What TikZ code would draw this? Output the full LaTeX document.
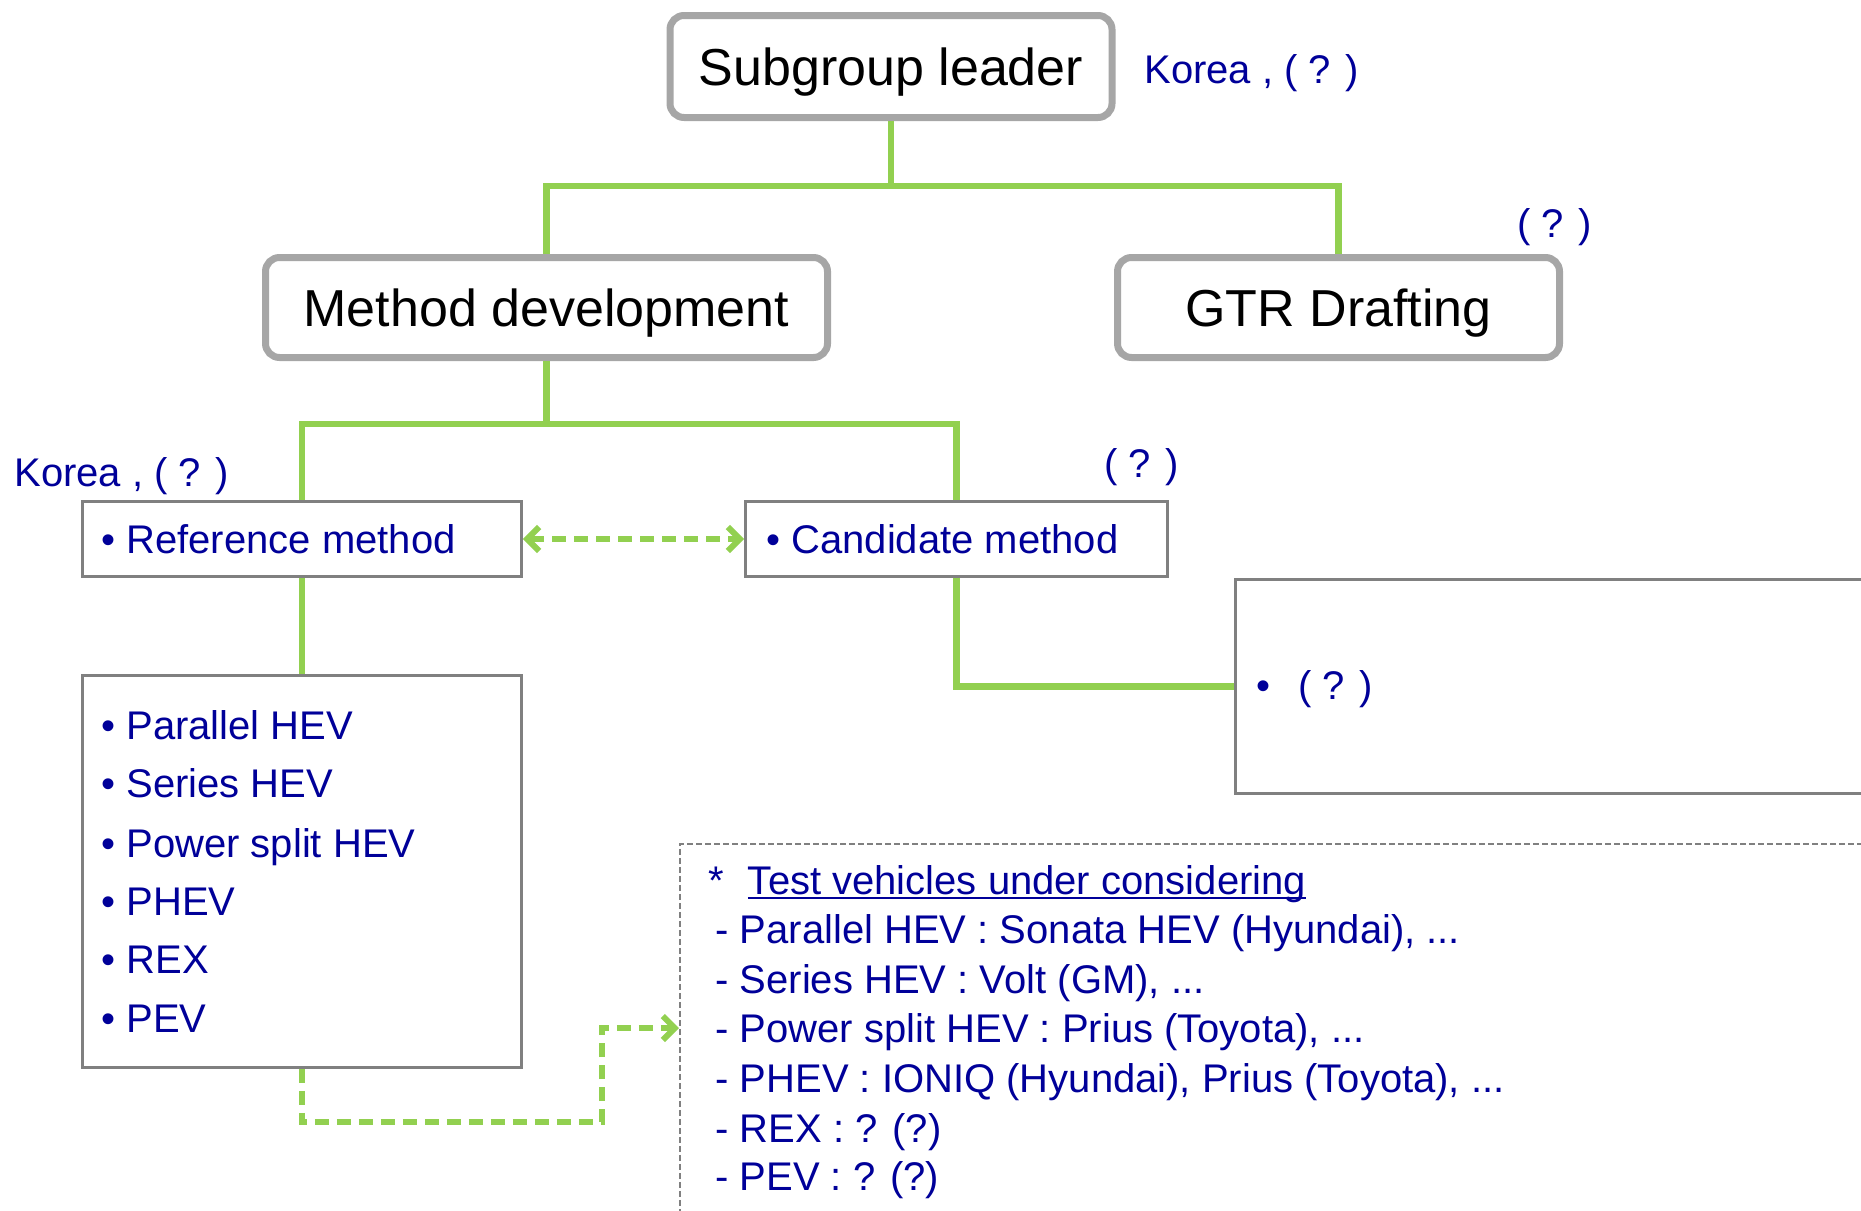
\documentclass[tikz,border=0pt]{standalone}
\usepackage{fontspec}
\setmainfont{Liberation Sans}
\usetikzlibrary{arrows.meta}
\definecolor{grn}{HTML}{92D050}
\definecolor{navy}{HTML}{000099}
\definecolor{rgray}{HTML}{A6A6A6}
\definecolor{bgray}{HTML}{808080}
\tikzset{gtip/.tip={Straight Barb[length=6pt,width=12pt]}}
\newcommand\myul[1]{\setbox0\hbox{#1}\rlap{\rule[-2.5pt]{\wd0}{1.1pt}}\box0}
\begin{document}
\begin{tikzpicture}[x=0.5pt,y=-0.5pt,
 rbox/.style={draw=rgray, line width=3.5pt, rounded corners=7pt, fill=white, font=\fontsize{26}{30}\selectfont, text=black, inner sep=0pt, text depth=0pt},
 sbox/.style={draw=bgray, line width=1.4pt, inner sep=0pt, fill=white},
 conn/.style={draw=grn, line width=3.3pt},
 dconn/.style={draw=grn, line width=3pt, dash pattern=on 7pt off 4pt},
 lbl/.style={text=navy, font=\fontsize{20}{23}\selectfont, anchor=base west, inner sep=0pt},
]
\useasboundingbox (0,0) rectangle (1861,1210);
% boxes
\node[rbox, minimum width=221pt, minimum height=51pt] (leader) at (891,66.5) {Subgroup leader};
\node[rbox, minimum width=281pt, minimum height=50pt] (md) at (546.5,307.5) {Method development};
\node[rbox, minimum width=221pt, minimum height=50pt] (gtr) at (1338.5,307.5) {GTR Drafting};
\node[sbox, minimum width=219.5pt, minimum height=37.5pt] (ref) at (302,539) {};
\node[sbox, minimum width=211pt, minimum height=37.5pt] (cand) at (956.5,539) {};
\node[sbox, minimum width=219.5pt, minimum height=196pt] (list) at (302,871.5) {};
\node[sbox, anchor=north west, minimum width=340pt, minimum height=107pt] (qbox) at (1234,578) {};
\node[draw=bgray, line width=0.75pt, dash pattern=on 3pt off 1.5pt, anchor=north west, minimum width=650pt, minimum height=250pt, inner sep=0pt] (tv) at (679,843) {};
% connectors
\coordinate (j1) at (891,186);
\draw[conn] (leader.south) -- (j1) -| (md.north);
\draw[conn] (j1) -| (gtr.north);
\coordinate (j2) at (546.5,424);
\draw[conn] (md.south) -- (j2) -| (ref.north);
\draw[conn] (j2) -| (cand.north);
\draw[conn] (ref.south) -- (list.north);
\draw[conn] (cand.south) |- (qbox.west);
\draw[dconn, gtip-gtip] (ref.east) -- (cand.west);
\coordinate (a1) at (302,1122);
\coordinate (a2) at (602,1122);
\coordinate (a3) at (602,1028);
\coordinate (a4) at (679,1028);
\draw[dconn, -gtip] (list.south) -- (a1) -- (a2) -- (a3) -- (a4);
% labels
\node[lbl] (k1) at (1144,83) {Korea , ( ? )};
\node[lbl] (q1) at (1517,237) {( ? )};
\node[lbl] (k2) at (14,486) {Korea , ( ? )};
\node[lbl] (q2) at (1104,477) {( ? )};
\node[lbl] (reft) at (101,553) {• Reference method};
\node[lbl] (candt) at (766,553) {• Candidate method};
\node[lbl] (qt) at (1256,699) {•\hspace{14pt}( ? )};
\node[lbl] (l1) at (101,739) {• Parallel HEV};
\node[lbl] (l2) at (101,797) {• Series HEV};
\node[lbl] (l3) at (101,857) {• Power split HEV};
\node[lbl] (l4) at (101,915) {• PHEV};
\node[lbl] (l5) at (101,973) {• REX};
\node[lbl] (l6) at (101,1032) {• PEV};
\node[lbl] (tvh) at (708,894) {*\hspace{12pt}\myul{Test vehicles under considering}};
\node[lbl] (t1) at (715,943) {- Parallel HEV : Sonata HEV (Hyundai), ...};
\node[lbl] (t2) at (715,993) {- Series HEV : Volt (GM), ...};
\node[lbl] (t3) at (715,1042) {- Power split HEV : Prius (Toyota), ...};
\node[lbl] (t4) at (715,1092) {- PHEV : IONIQ (Hyundai), Prius (Toyota), ...};
\node[lbl] (t5) at (715,1142) {- REX : ? (?)};
\node[lbl] (t6) at (715,1190) {- PEV : ? (?)};
\end{tikzpicture}
\end{document}
